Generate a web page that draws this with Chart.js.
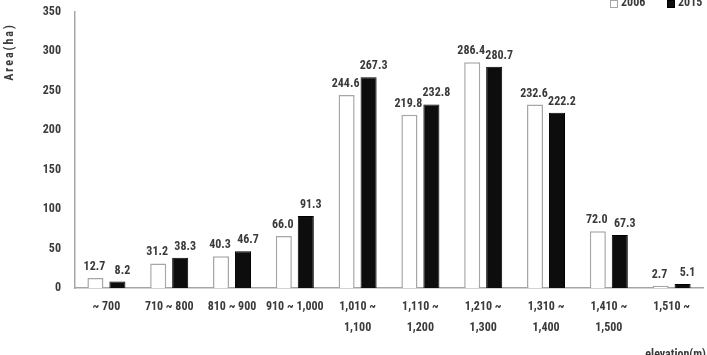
<!DOCTYPE html>
<html>
<head>
<meta charset="utf-8">
<script src="https://cdn.jsdelivr.net/npm/chart.js@4.4.1/dist/chart.umd.min.js"></script>
<style>
html,body{margin:0;padding:0;background:#fff;overflow:hidden;}
#wrap{width:707px;height:355px;}
</style>
</head>
<body>
<div id="wrap"><canvas id="c" width="707" height="355"></canvas></div>
<script>
const categories = [
  '~ 700', '710 ~ 800', '810 ~ 900', '910 ~ 1,000',
  ['1,010 ~', '1,100'], ['1,110 ~', '1,200'], ['1,210 ~', '1,300'],
  ['1,310 ~', '1,400'], ['1,410 ~', '1,500'], ['1,510 ~']
];
const values2006 = [12.7, 31.2, 40.3, 66.0, 244.6, 219.8, 286.4, 232.6, 72.0, 2.7];
const values2015 = [8.2, 38.3, 46.7, 91.3, 267.3, 232.8, 280.7, 222.2, 67.3, 5.1];
const seriesNames = ['2006', '2015'];
const yTicks = [0, 50, 100, 150, 200, 250, 300, 350];
const yTitle = 'Area(ha)';
const xTitle = 'elevation(m)';

const FONT = '"Roboto Condensed", "Liberation Sans Narrow", "DejaVu Sans Condensed", "Liberation Sans", sans-serif';
const TXT = '#3a3a3a';

const labelPlugin = {
  id: 'valueLabels',
  afterDatasetsDraw(chart) {
    const ctx = chart.ctx;
    ctx.save();
    ctx.font = 'bold 12px ' + FONT;
    ctx.fillStyle = TXT;
    ctx.textAlign = 'center';
    ctx.textBaseline = 'bottom';
    chart.data.datasets.forEach((ds, i) => {
      const meta = chart.getDatasetMeta(i);
      meta.data.forEach((el, j) => {
        ctx.fillText(ds.data[j].toFixed(1), el.x + (i === 1 ? 5 : -1), el.y - 5);
      });
    });
    ctx.restore();
  }
};

const decorPlugin = {
  id: 'decor',
  afterDraw(chart) {
    const ctx = chart.ctx;
    // y-axis title
    ctx.save();
    ctx.font = 'bold 12px ' + FONT;
    ctx.fillStyle = TXT;
    try { ctx.letterSpacing = '2px'; } catch (e) {}
    ctx.translate(10, 52);
    ctx.rotate(-Math.PI / 2);
    ctx.textAlign = 'center';
    ctx.textBaseline = 'middle';
    ctx.fillText(yTitle, 0, 0);
    ctx.restore();
    // x-axis title
    ctx.save();
    ctx.font = 'bold 12px ' + FONT;
    ctx.fillStyle = TXT;
    ctx.textAlign = 'right';
    ctx.textBaseline = 'top';
    ctx.fillText(xTitle, 706, 349);
    ctx.restore();
    // legend
    const items = [{ x: 610, tx: 621 }, { x: 667, tx: 678 }];
    ctx.save();
    ctx.font = 'bold 12px ' + FONT;
    ctx.textAlign = 'left';
    ctx.textBaseline = 'middle';
    chart.data.datasets.forEach((ds, i) => {
      const it = items[i];
      ctx.fillStyle = ds.backgroundColor;
      ctx.fillRect(it.x, 0, 8, 8);
      ctx.strokeStyle = ds.borderColor;
      ctx.lineWidth = 1;
      ctx.strokeRect(it.x + 0.5, 0.5, 7, 7);
      ctx.fillStyle = TXT;
      ctx.fillText(ds.label, it.tx, 3);
    });
    ctx.restore();
  }
};

new Chart(document.getElementById('c'), {
  type: 'bar',
  data: {
    labels: categories,
    datasets: [
      {
        label: seriesNames[0],
        data: values2006,
        backgroundColor: '#ffffff',
        borderColor: '#a6a6a6',
        borderWidth: 1.5,
        categoryPercentage: 0.7,
        barPercentage: 0.73
      },
      {
        label: seriesNames[1],
        data: values2015,
        backgroundColor: '#0d0d0d',
        borderColor: '#000000',
        borderWidth: 1,
        categoryPercentage: 0.7,
        barPercentage: 0.73
      }
    ]
  },
  options: {
    responsive: false,
    animation: false,
    layout: { padding: { top: 0, right: 4, bottom: 0, left: 0 } },
    plugins: {
      legend: { display: false },
      tooltip: { enabled: false }
    },
    scales: {
      x: {
        grid: { display: false, drawTicks: false },
        border: { display: true, color: '#a6a6a6', width: 1.5 },
        ticks: {
          color: TXT,
          padding: 8,
          maxRotation: 0,
          autoSkip: false,
          font: { family: FONT, size: 12, weight: 'bold', lineHeight: 1.75 }
        },
        afterFit(scale) { scale.height = 355 - 288; }
      },
      y: {
        min: 0,
        max: 350,
        afterBuildTicks(scale) { scale.ticks = yTicks.map(v => ({ value: v })); },
        grid: { display: false, drawTicks: false },
        border: { display: true, color: '#a6a6a6', width: 1.5 },
        ticks: {
          color: TXT,
          padding: 14,
          font: { family: FONT, size: 12, weight: 'bold' }
        },
        afterFit(scale) { scale.width = 75; scale.paddingTop = 12; scale.paddingBottom = 8; }
      }
    }
  },
  plugins: [labelPlugin, decorPlugin]
});
</script>
</body>
</html>
